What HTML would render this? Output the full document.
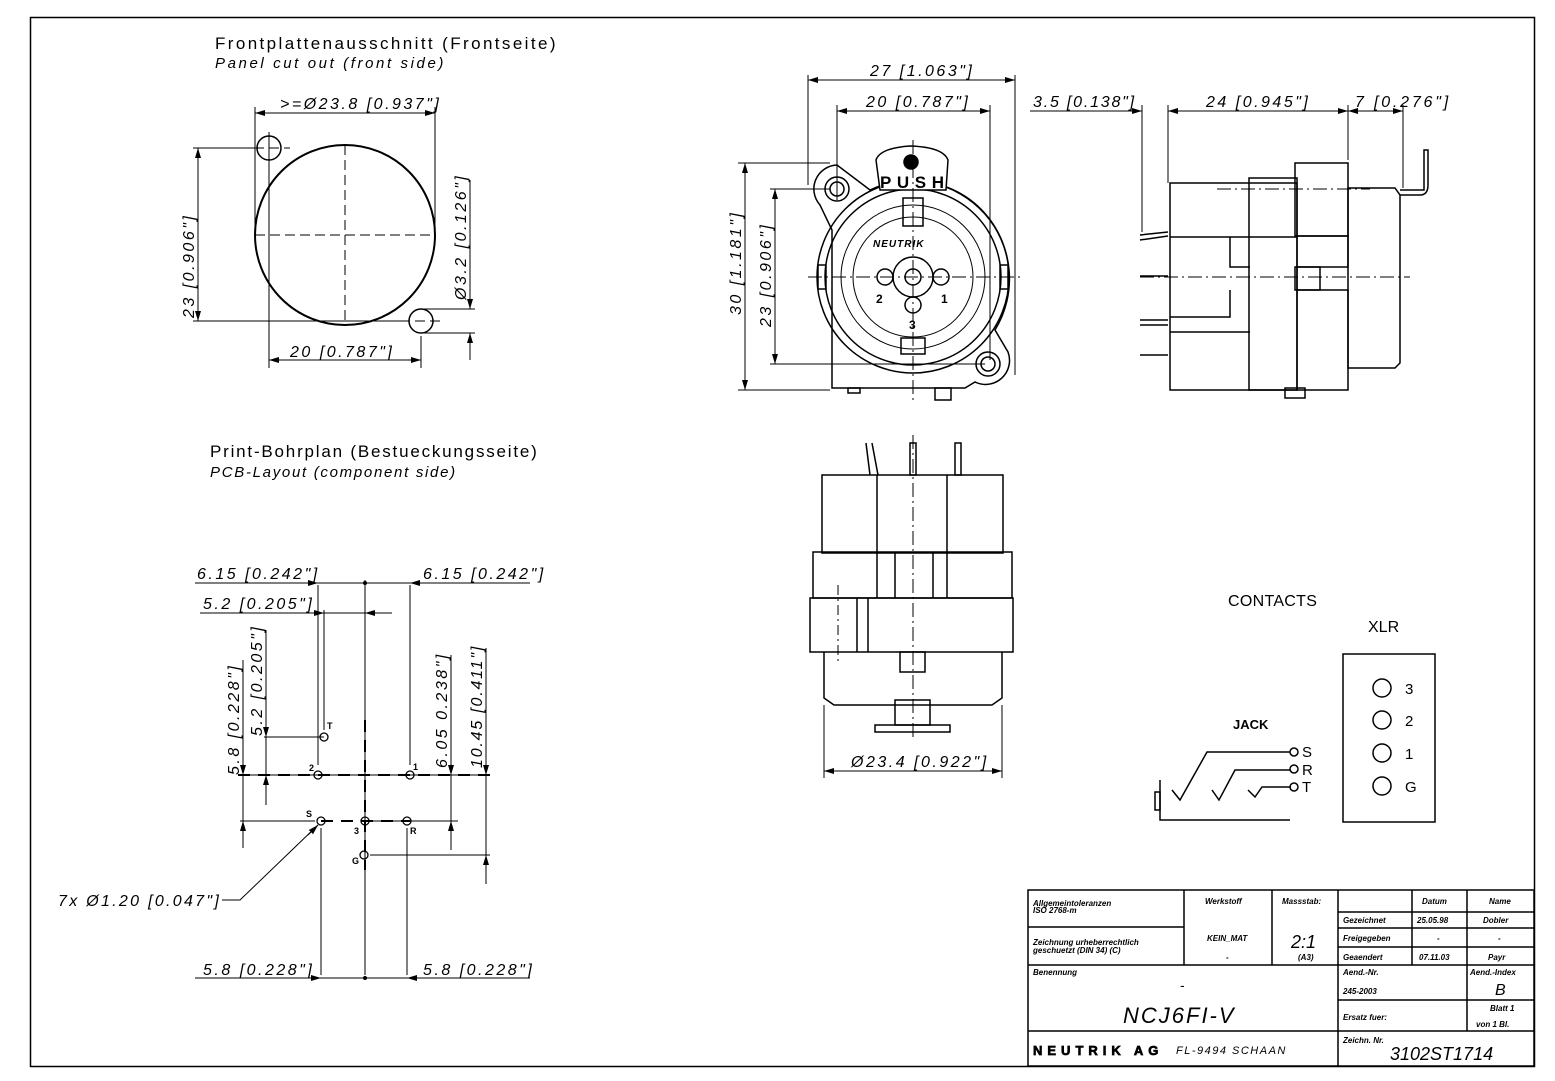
<!DOCTYPE html>
<html><head><meta charset="utf-8"><style>
html,body{margin:0;padding:0;background:#fff}
svg{display:block}
text{font-family:"Liberation Sans",sans-serif;fill:#000}
.i{font-style:italic}
.d{font-style:italic;letter-spacing:2.5px}
</style></head><body>
<svg width="1555" height="1081" viewBox="0 0 1555 1081" xmlns="http://www.w3.org/2000/svg">
<defs>
<marker id="a" viewBox="0 0 10 6" refX="10" refY="3" markerWidth="10" markerHeight="6" orient="auto-start-reverse" markerUnits="userSpaceOnUse"><path d="M0,0 L10,3 L0,6 z" fill="#000"/></marker>
</defs>
<rect x="30.5" y="17.5" width="1504" height="1049" fill="none" stroke="#000" stroke-width="1.5"/>

<!-- Panel cutout -->
<g stroke="#000" fill="none">
<text x="215" y="49" font-size="17" stroke="none" letter-spacing="2.4">Frontplattenausschnitt (Frontseite)</text>
<text x="215" y="68" font-size="15" stroke="none" class="i" letter-spacing="2.6">Panel cut out (front side)</text>
<circle cx="345" cy="235" r="90" stroke-width="2"/>
<circle cx="269" cy="148" r="12" stroke-width="1.5"/>
<circle cx="421" cy="321" r="12" stroke-width="1.5"/>
<g stroke-width="1" stroke-dasharray="10,5">
<line x1="255" y1="235" x2="435" y2="235"/><line x1="345" y1="145" x2="345" y2="325"/>
<line x1="254" y1="148" x2="290" y2="148"/><line x1="400" y1="321" x2="440" y2="321"/>
</g>
<g stroke-width="1">
<line x1="269" y1="132" x2="269" y2="368"/><line x1="421" y1="336" x2="421" y2="368"/>
<line x1="255" y1="107" x2="255" y2="230"/><line x1="435" y1="107" x2="435" y2="230"/>
<line x1="255" y1="113" x2="435" y2="113" marker-start="url(#a)" marker-end="url(#a)"/>
<line x1="193" y1="148" x2="260" y2="148"/><line x1="193" y1="321" x2="410" y2="321"/>
<line x1="198" y1="148" x2="198" y2="321" marker-start="url(#a)" marker-end="url(#a)"/>
<line x1="269" y1="360" x2="421" y2="360" marker-start="url(#a)" marker-end="url(#a)"/>
<line x1="421" y1="309" x2="475" y2="309"/><line x1="421" y1="333" x2="475" y2="333"/>
<line x1="470" y1="180" x2="470" y2="309" marker-end="url(#a)"/><line x1="470" y1="360" x2="470" y2="333" marker-end="url(#a)"/>
</g>
<text x="280" y="109" font-size="16" class="d" stroke="none" letter-spacing="1.5">&gt;=Ø23.8 [0.937"]</text>
<text x="290" y="357" font-size="16" class="d" stroke="none">20 [0.787"]</text>
<text transform="translate(194,318) rotate(-90)" font-size="16" class="d" stroke="none">23 [0.906"]</text>
<text transform="translate(466,300) rotate(-90)" font-size="16" class="d" stroke="none">Ø3.2 [0.126"]</text>
</g>

<!-- PCB layout -->
<g stroke="#000" fill="none" stroke-width="1">
<text x="210" y="457" font-size="17" stroke="none" letter-spacing="1.8">Print-Bohrplan (Bestueckungsseite)</text>
<text x="210" y="477" font-size="15" stroke="none" class="i" letter-spacing="1.7">PCB-Layout (component side)</text>
<line x1="365" y1="580" x2="365" y2="975"/>
<line x1="318" y1="585" x2="318" y2="765"/><line x1="410" y1="585" x2="410" y2="765"/>
<line x1="324" y1="610" x2="324" y2="730"/>
<line x1="195" y1="583" x2="318" y2="583"/><line x1="410" y1="583" x2="530" y2="583"/>
<line x1="318" y1="583" x2="410" y2="583"/>
<line x1="300" y1="583" x2="318" y2="583" marker-end="url(#a)"/><line x1="428" y1="583" x2="410" y2="583" marker-end="url(#a)"/>
<circle cx="365" cy="583" r="1.5" fill="#000"/>
<line x1="200" y1="613" x2="324" y2="613"/><line x1="306" y1="613" x2="324" y2="613" marker-end="url(#a)"/>
<line x1="324" y1="613" x2="392" y2="613"/><line x1="385" y1="613" x2="365" y2="613" marker-end="url(#a)"/>
<text x="197" y="579" font-size="16" class="d" stroke="none">6.15 [0.242"]</text>
<text x="423" y="579" font-size="16" class="d" stroke="none">6.15 [0.242"]</text>
<text x="203" y="609" font-size="16" class="d" stroke="none">5.2 [0.205"]</text>
<g stroke-width="2" stroke-dasharray="12,8">
<line x1="238" y1="775" x2="490" y2="775"/><line x1="365" y1="720" x2="365" y2="870"/><line x1="321" y1="821" x2="410" y2="821"/>
</g>
<line x1="240" y1="775" x2="490" y2="775"/>
<line x1="264" y1="737" x2="324" y2="737"/>
<line x1="240" y1="821" x2="315" y2="821"/><line x1="365" y1="821" x2="458" y2="821"/>
<line x1="370" y1="855" x2="490" y2="855"/>
<line x1="243" y1="660" x2="243" y2="848"/>
<line x1="243" y1="760" x2="243" y2="775" marker-end="url(#a)"/><line x1="243" y1="835" x2="243" y2="821" marker-end="url(#a)"/>
<line x1="266" y1="630" x2="266" y2="805"/>
<line x1="266" y1="720" x2="266" y2="737" marker-end="url(#a)"/><line x1="266" y1="792" x2="266" y2="775" marker-end="url(#a)"/>
<line x1="451" y1="655" x2="451" y2="850"/>
<line x1="451" y1="760" x2="451" y2="775" marker-end="url(#a)"/><line x1="451" y1="836" x2="451" y2="821" marker-end="url(#a)"/>
<line x1="486" y1="648" x2="486" y2="884"/>
<line x1="486" y1="760" x2="486" y2="775" marker-end="url(#a)"/><line x1="486" y1="870" x2="486" y2="855" marker-end="url(#a)"/>
<line x1="321" y1="828" x2="321" y2="975"/><line x1="407" y1="828" x2="407" y2="975"/>
<line x1="195" y1="978" x2="530" y2="978"/>
<line x1="303" y1="978" x2="321" y2="978" marker-end="url(#a)"/><line x1="425" y1="978" x2="407" y2="978" marker-end="url(#a)"/>
<circle cx="365" cy="978" r="1.5" fill="#000"/>
<polyline points="222,900 240,900 318,825"/><line x1="308" y1="835" x2="318" y2="825" marker-end="url(#a)"/>
<g stroke-width="1.3">
<circle cx="324" cy="737" r="4"/><circle cx="318" cy="775" r="4"/><circle cx="410" cy="775" r="4"/>
<circle cx="321" cy="821" r="4"/><circle cx="365" cy="821" r="4"/><circle cx="407" cy="821" r="4"/><circle cx="364" cy="855" r="4"/>
</g>
<g font-size="9" font-weight="bold" stroke="none">
<text x="327" y="729">T</text><text x="309" y="771">2</text><text x="413" y="770">1</text>
<text x="306" y="817">S</text><text x="354" y="834">3</text><text x="410" y="834">R</text><text x="352" y="864">G</text>
</g>
<g font-size="16" class="d" stroke="none">
<text transform="translate(239,775) rotate(-90)">5.8 [0.228"]</text>
<text transform="translate(262,736) rotate(-90)">5.2 [0.205"]</text>
<text transform="translate(447,768) rotate(-90)">6.05 0.238"]</text>
<text transform="translate(482,768) rotate(-90)" letter-spacing="1.8">10.45 [0.411"]</text>
<text x="58" y="906" letter-spacing="2.3">7x  Ø1.20 [0.047"]</text>
<text x="203" y="975">5.8 [0.228"]</text>
<text x="423" y="975">5.8 [0.228"]</text>
</g>
</g>

<!-- Front view -->
<g stroke="#000" fill="none" stroke-width="1.5">
<path d="M837,165 A24,24 0 0 0 820,205 L832,230 L832,388 L965,388 L975,382 A24,24 0 0 0 1008,352 L995,330 A98,98 0 0 0 870,190 Z" />
<circle cx="913" cy="277" r="96"/>
<circle cx="913" cy="277" r="88"/>
<circle cx="913" cy="277" r="72" stroke-width="1"/>
<circle cx="913" cy="277" r="60" stroke-width="1"/>
<circle cx="913" cy="277" r="20"/><circle cx="913" cy="277" r="8"/>
<circle cx="837" cy="189" r="12"/><circle cx="837" cy="189" r="7"/>
<circle cx="988" cy="364" r="12"/><circle cx="988" cy="364" r="7"/>
<path d="M880,190 L876,160 Q880,148 910,146 Q943,147 948,160 L946,190 Z" fill="#fff"/>
<circle cx="911" cy="162" r="7" fill="#000"/>
<text x="880" y="188" font-size="17" font-weight="bold" stroke="none" textLength="64">PUSH</text>
<text x="873" y="247" font-size="10" font-weight="bold" font-style="italic" stroke="none" letter-spacing="1">NEUTRIK</text>
<rect x="903" y="198" width="20" height="28"/>
<rect x="901" y="338" width="24" height="16"/>
<rect x="818" y="265" width="8" height="24"/><rect x="1000" y="265" width="8" height="24"/>
<circle cx="885" cy="277" r="8"/><circle cx="941" cy="277" r="8"/><circle cx="913" cy="305" r="8"/>
<rect x="848" y="388" width="12" height="5"/><rect x="935" y="388" width="16" height="12"/>
<text x="876" y="303" font-size="12" font-weight="bold" stroke="none">2</text>
<text x="941" y="303" font-size="12" font-weight="bold" stroke="none">1</text>
<text x="909" y="329" font-size="12" font-weight="bold" stroke="none">3</text>
</g>
<g stroke="#000" fill="none" stroke-width="1">
<g stroke-dasharray="14,4,2,4"><line x1="808" y1="277" x2="1020" y2="277"/><line x1="913" y1="140" x2="913" y2="400"/></g>
<line x1="808" y1="75" x2="808" y2="185"/><line x1="1015" y1="75" x2="1015" y2="375"/>
<line x1="837" y1="105" x2="837" y2="200"/><line x1="990" y1="105" x2="990" y2="360"/>
<line x1="808" y1="80" x2="1015" y2="80" marker-start="url(#a)" marker-end="url(#a)"/>
<line x1="837" y1="111" x2="990" y2="111" marker-start="url(#a)" marker-end="url(#a)"/>
<line x1="738" y1="163" x2="830" y2="163"/><line x1="738" y1="390" x2="830" y2="390"/>
<line x1="745" y1="163" x2="745" y2="390" marker-start="url(#a)" marker-end="url(#a)"/>
<line x1="770" y1="189" x2="830" y2="189"/><line x1="770" y1="364" x2="985" y2="364"/>
<line x1="775" y1="189" x2="775" y2="364" marker-start="url(#a)" marker-end="url(#a)"/>
</g>
<g font-size="16" class="d">
<text x="870" y="76">27 [1.063"]</text>
<text x="866" y="107">20 [0.787"]</text>
<text transform="translate(741,315) rotate(-90)">30 [1.181"]</text>
<text transform="translate(771,327) rotate(-90)">23 [0.906"]</text>
</g>

<!-- Side view -->
<g stroke="#000" fill="none" stroke-width="1.5">
<rect x="1170" y="183" width="127" height="207"/>
<rect x="1249" y="178" width="48" height="212"/>
<rect x="1295" y="163" width="53" height="73"/>
<path d="M1348,188 L1395,188 L1400,195 L1400,363 L1395,368 L1348,368 Z"/>
<path d="M1297,236 L1348,236 L1348,267 L1297,267"/>
<path d="M1297,290 L1348,290 L1348,390 L1297,390"/>
<path d="M1170,237 L1297,237"/><path d="M1170,332 L1250,332"/>
<path d="M1230,237 L1230,267 L1250,267"/><path d="M1230,290 L1230,317 L1170,317"/>
<rect x="1295" y="267" width="25" height="23"/>
<path d="M1400,195 L1420,195 Q1428,195 1428,185 L1428,150 L1424,150 L1424,190 L1400,190"/>
<rect x="1285" y="388" width="20" height="10"/>
<path d="M1140,240 L1168,236 M1140,235 L1168,232"/>
<path d="M1140,276 L1168,276"/><path d="M1140,320 L1168,320 M1140,325 L1168,325"/><path d="M1140,355 L1168,355"/>
</g>
<g stroke="#000" fill="none" stroke-width="1">
<line x1="1140" y1="277" x2="1410" y2="277" stroke-dasharray="14,4,2,4"/>
<line x1="1217" y1="189" x2="1370" y2="189" stroke-dasharray="14,4,2,4"/>
<line x1="1142" y1="105" x2="1142" y2="232"/><line x1="1168" y1="105" x2="1168" y2="183"/>
<line x1="1348" y1="105" x2="1348" y2="160"/><line x1="1403" y1="105" x2="1403" y2="188"/>
<line x1="1030" y1="111" x2="1142" y2="111"/><line x1="1125" y1="111" x2="1142" y2="111" marker-end="url(#a)"/>
<line x1="1168" y1="111" x2="1348" y2="111" marker-start="url(#a)" marker-end="url(#a)"/>
<line x1="1348" y1="111" x2="1403" y2="111" marker-start="url(#a)" marker-end="url(#a)"/>
</g>
<g font-size="16" class="d">
<text x="1033" y="107" letter-spacing="1.8">3.5 [0.138"]</text>
<text x="1206" y="107">24 [0.945"]</text>
<text x="1355" y="107" letter-spacing="2.8">7 [0.276"]</text>
</g>

<!-- Bottom view -->
<g stroke="#000" fill="none" stroke-width="1.5">
<rect x="822" y="475" width="181" height="78"/>
<line x1="877" y1="475" x2="877" y2="598"/><line x1="947" y1="475" x2="947" y2="598"/>
<rect x="813" y="552" width="199" height="46"/>
<rect x="810" y="598" width="203" height="54"/>
<line x1="895" y1="552" x2="895" y2="598"/><line x1="933" y1="552" x2="933" y2="598"/>
<line x1="857" y1="598" x2="857" y2="652"/><line x1="868" y1="598" x2="868" y2="652"/>
<path d="M824,652 L824,698 L834,705 L992,705 L1002,698 L1002,652"/>
<rect x="900" y="652" width="25" height="20"/>
<rect x="895" y="700" width="35" height="25"/>
<rect x="875" y="725" width="75" height="7"/>
<path d="M866,443 L870,475 M872,443 L878,475"/><rect x="910" y="443" width="6" height="32"/><rect x="955" y="443" width="6" height="32"/>
</g>
<g stroke="#000" fill="none" stroke-width="1">
<line x1="913" y1="435" x2="913" y2="740" stroke-dasharray="14,4,2,4"/>
<line x1="838" y1="585" x2="838" y2="665" stroke-dasharray="10,4,2,4"/>
<line x1="824" y1="705" x2="824" y2="778"/><line x1="1002" y1="705" x2="1002" y2="778"/>
<line x1="824" y1="771" x2="1002" y2="771" marker-start="url(#a)" marker-end="url(#a)"/>
</g>
<text x="851" y="767" font-size="16" class="d">Ø23.4 [0.922"]</text>

<!-- Contacts -->
<text x="1228" y="606" font-size="16" letter-spacing="0.3">CONTACTS</text>
<text x="1368" y="632" font-size="16">XLR</text>
<text x="1233" y="729" font-size="13" font-weight="bold">JACK</text>
<g stroke="#000" fill="none" stroke-width="1.5">
<rect x="1343" y="654" width="92" height="168"/>
<circle cx="1382" cy="688" r="9"/><circle cx="1382" cy="720" r="9"/><circle cx="1382" cy="753" r="9"/><circle cx="1382" cy="786" r="9"/>
<polyline points="1160,780 1160,820 1290,820"/><rect x="1155" y="792" width="5" height="18"/>
<polyline points="1172,790 1180,800 1207,752 1290,752"/>
<polyline points="1212,790 1219,800 1235,770 1290,770"/>
<polyline points="1248,790 1255,797 1262,787 1291,787"/>
<circle cx="1294" cy="752" r="4"/><circle cx="1294" cy="769" r="4"/><circle cx="1294" cy="787" r="4"/>
</g>
<g font-size="15"><text x="1405" y="694">3</text><text x="1405" y="726">2</text><text x="1405" y="759">1</text><text x="1405" y="792">G</text>
<text x="1302" y="757">S</text><text x="1302" y="775">R</text><text x="1302" y="792">T</text></g>

<!-- Title block -->
<g stroke="#000" fill="none" stroke-width="1.5">
<rect x="1028" y="890" width="506" height="176"/>
<line x1="1028" y1="927" x2="1184" y2="927"/>
<line x1="1028" y1="965" x2="1534" y2="965"/>
<line x1="1028" y1="1031" x2="1534" y2="1031"/>
<line x1="1338" y1="912" x2="1534" y2="912"/><line x1="1338" y1="928" x2="1534" y2="928"/><line x1="1338" y1="947" x2="1534" y2="947"/>
<line x1="1338" y1="1000" x2="1534" y2="1000"/>
<line x1="1184" y1="890" x2="1184" y2="965"/><line x1="1272" y1="890" x2="1272" y2="965"/>
<line x1="1338" y1="890" x2="1338" y2="1066"/>
<line x1="1412" y1="890" x2="1412" y2="965"/><line x1="1467" y1="890" x2="1467" y2="1031"/>
</g>
<g font-size="8" font-weight="bold" font-style="italic">
<text x="1033" y="906">Allgemeintoleranzen</text><text x="1033" y="913">ISO 2768-m</text>
<text x="1033" y="945">Zeichnung urheberrechtlich</text><text x="1033" y="953">geschuetzt (DIN 34) (C)</text>
<text x="1033" y="975">Benennung</text>
<text x="1205" y="904">Werkstoff</text><text x="1282" y="904">Massstab:</text>
<text x="1207" y="941">KEIN_MAT</text><text x="1226" y="960">-</text><text x="1298" y="960">(A3)</text>
<text x="1422" y="904">Datum</text><text x="1489" y="904">Name</text>
<text x="1343" y="923">Gezeichnet</text><text x="1417" y="923">25.05.98</text><text x="1483" y="923">Dobler</text>
<text x="1343" y="941">Freigegeben</text><text x="1437" y="941">-</text><text x="1498" y="941">-</text>
<text x="1343" y="960">Geaendert</text><text x="1419" y="960">07.11.03</text><text x="1488" y="960">Payr</text>
<text x="1343" y="975">Aend.-Nr.</text><text x="1343" y="994">245-2003</text><text x="1470" y="975">Aend.-Index</text>
<text x="1343" y="1020">Ersatz fuer:</text><text x="1490" y="1011">Blatt 1</text><text x="1476" y="1027">von 1 Bl.</text>
<text x="1343" y="1043">Zeichn. Nr.</text>
</g>
<text x="1291" y="948" font-size="18" class="i">2:1</text>
<text x="1495" y="995" font-size="16" class="i">B</text>
<text x="1180" y="990" font-size="14">-</text>
<text x="1123" y="1023" font-size="22" class="i" letter-spacing="2">NCJ6FI-V</text>
<text x="1033" y="1055" font-size="13" font-weight="bold" letter-spacing="5" fill="none" stroke="#000" stroke-width="0.7">NEUTRIK AG</text>
<text x="1176" y="1054" font-size="11" class="i" letter-spacing="1.5">FL-9494 SCHAAN</text>
<text x="1390" y="1060" font-size="18" class="i">3102ST1714</text>
</svg>
</body></html>
